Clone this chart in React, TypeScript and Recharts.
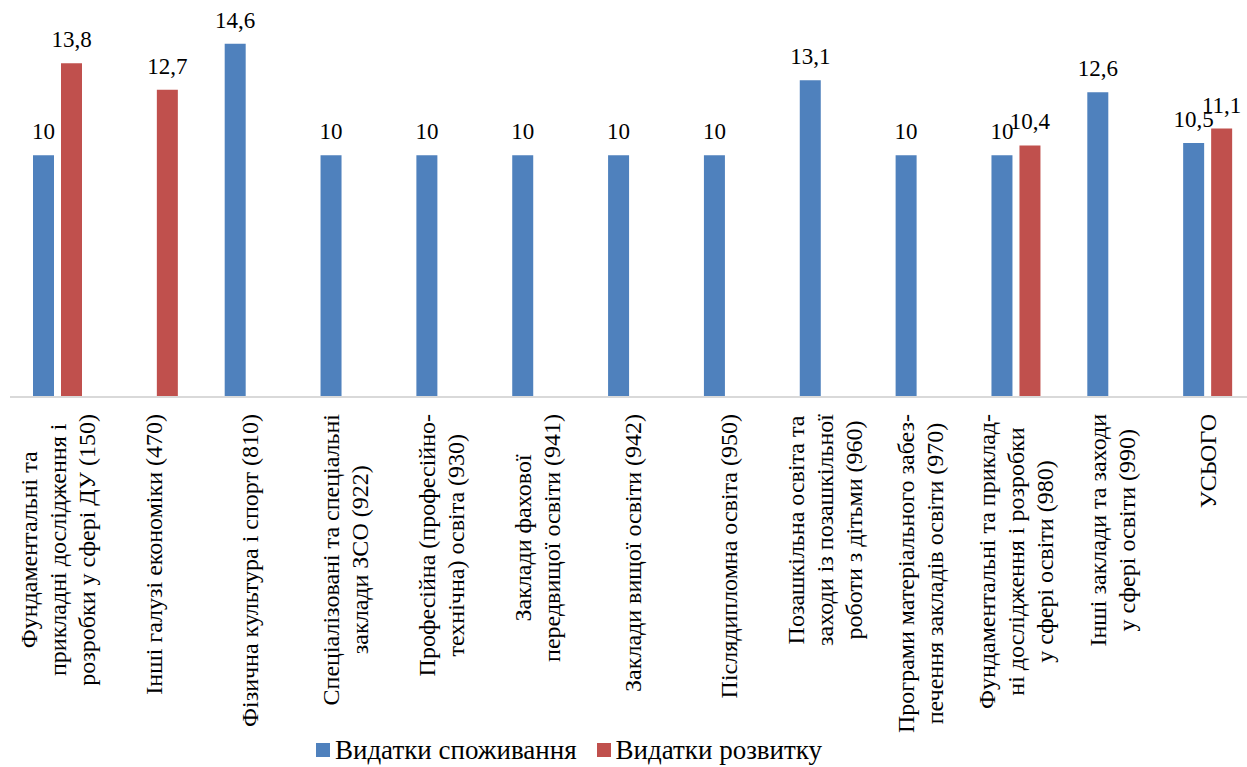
import { Bar, BarChart, LabelList, XAxis, YAxis } from 'recharts';

const COLORS = {
  consumption: '#4F81BD',
  development: '#C0504D',
};

const FONT = 'Liberation Serif';

const categories: string[][] = [
  ['Фундаментальні та', 'прикладні дослідження і', 'розробки у сфері ДУ (150)'],
  ['Інші галузі економіки (470)'],
  ['Фізична культура і спорт (810)'],
  ['Спеціалізовані та спеціальні', 'заклади ЗСО (922)'],
  ['Професійна (професійно-', 'технічна) освіта (930)'],
  ['Заклади фахової', 'передвищої освіти (941)'],
  ['Заклади вищої освіти (942)'],
  ['Післядипломна освіта (950)'],
  ['Позашкільна освіта та', 'заходи із позашкільної', 'роботи з дітьми (960)'],
  ['Програми матеріального забез-', 'печення закладів освіти (970)'],
  ['Фундаментальні та приклад-', 'ні дослідження і розробки', 'у сфері освіти (980)'],
  ['Інші заклади та заходи', 'у сфері освіти (990)'],
  ['УСЬОГО'],
];

const consumption: (number | null)[] = [10, null, 14.6, 10, 10, 10, 10, 10, 13.1, 10, 10, 12.6, 10.5];
const development: (number | null)[] = [13.8, 12.7, null, null, null, null, null, null, null, null, 10.4, null, 11.1];

const data = categories.map((lines, i) => ({
  name: String(i),
  consumption: consumption[i],
  development: development[i],
}));

const TICK_SIZE = 24;
const LINE_HEIGHT = 29;

let ctx: CanvasRenderingContext2D | null = null;
const measure = (text: string) => {
  if (!ctx) {
    ctx = document.createElement('canvas').getContext('2d');
  }
  if (!ctx) return text.length * 0.43 * TICK_SIZE;
  ctx.font = `${TICK_SIZE}px "${FONT}"`;
  return ctx.measureText(text).width;
};

const formatValue = (v: unknown) => {
  if (v === null || v === undefined || v === '') return '';
  return String(v).replace('.', ',');
};

const ValueLabel = (props: any) => {
  const { x, y, width, value } = props;
  if (value === null || value === undefined) return null;
  return (
    <text
      x={Number(x) + Number(width) / 2}
      y={Number(y) - 16}
      textAnchor="middle"
      fontFamily={FONT}
      fontSize={23}
      fill="#000"
    >
      {formatValue(value)}
    </text>
  );
};

// rotated multi-line label: block starts at the axis, lines centred on each other
const CategoryTick = (props: any) => {
  const { x, y, payload } = props;
  const lines = categories[Number(payload.value)] ?? [];
  const maxW = Math.max(...lines.map(measure));
  const n = lines.length;
  return (
    <g transform={`translate(${x},${y}) rotate(-90)`}>
      {lines.map((line, i) => (
        <text
          key={i}
          x={-(maxW / 2)}
          y={(i - (n - 1) / 2) * LINE_HEIGHT}
          dy="0.33em"
          textAnchor="middle"
          fontFamily={FONT}
          fontSize={TICK_SIZE}
          fill="#000"
        >
          {line}
        </text>
      ))}
    </g>
  );
};

export default function App() {
  return (
    <div style={{ position: 'absolute', left: 0, top: 0, width: 1247, height: 767, overflow: 'hidden', background: '#fff' }}>
      <BarChart
        width={1262}
        height={767}
        data={data}
        margin={{ top: 10, right: 6, left: 10, bottom: 0 }}
        barGap={7}
        barSize={21}
      >
        <XAxis
          dataKey="name"
          tick={<CategoryTick />}
          tickLine={false}
          axisLine={{ stroke: '#D9D9D9', strokeWidth: 2 }}
          interval={0}
          tickMargin={11}
          height={370}
        />
        <YAxis hide domain={[0, 16]} />
        <Bar dataKey="consumption" fill={COLORS.consumption} isAnimationActive={false}>
          <LabelList dataKey="consumption" content={<ValueLabel />} />
        </Bar>
        <Bar dataKey="development" fill={COLORS.development} isAnimationActive={false}>
          <LabelList dataKey="development" content={<ValueLabel />} />
        </Bar>
      </BarChart>
      <div
        style={{
          position: 'absolute',
          left: 0,
          width: 1138,
          top: 734,
          display: 'flex',
          justifyContent: 'center',
          gap: 20,
          fontFamily: FONT,
          fontSize: 27,
          lineHeight: '32px',
          color: '#000',
        }}
      >
        <span style={{ display: 'flex', alignItems: 'center', gap: 5 }}>
          <span style={{ width: 14, height: 14, background: COLORS.consumption, display: 'inline-block' }} />
          Видатки споживання
        </span>
        <span style={{ display: 'flex', alignItems: 'center', gap: 5 }}>
          <span style={{ width: 14, height: 14, background: COLORS.development, display: 'inline-block' }} />
          Видатки розвитку
        </span>
      </div>
    </div>
  );
}
